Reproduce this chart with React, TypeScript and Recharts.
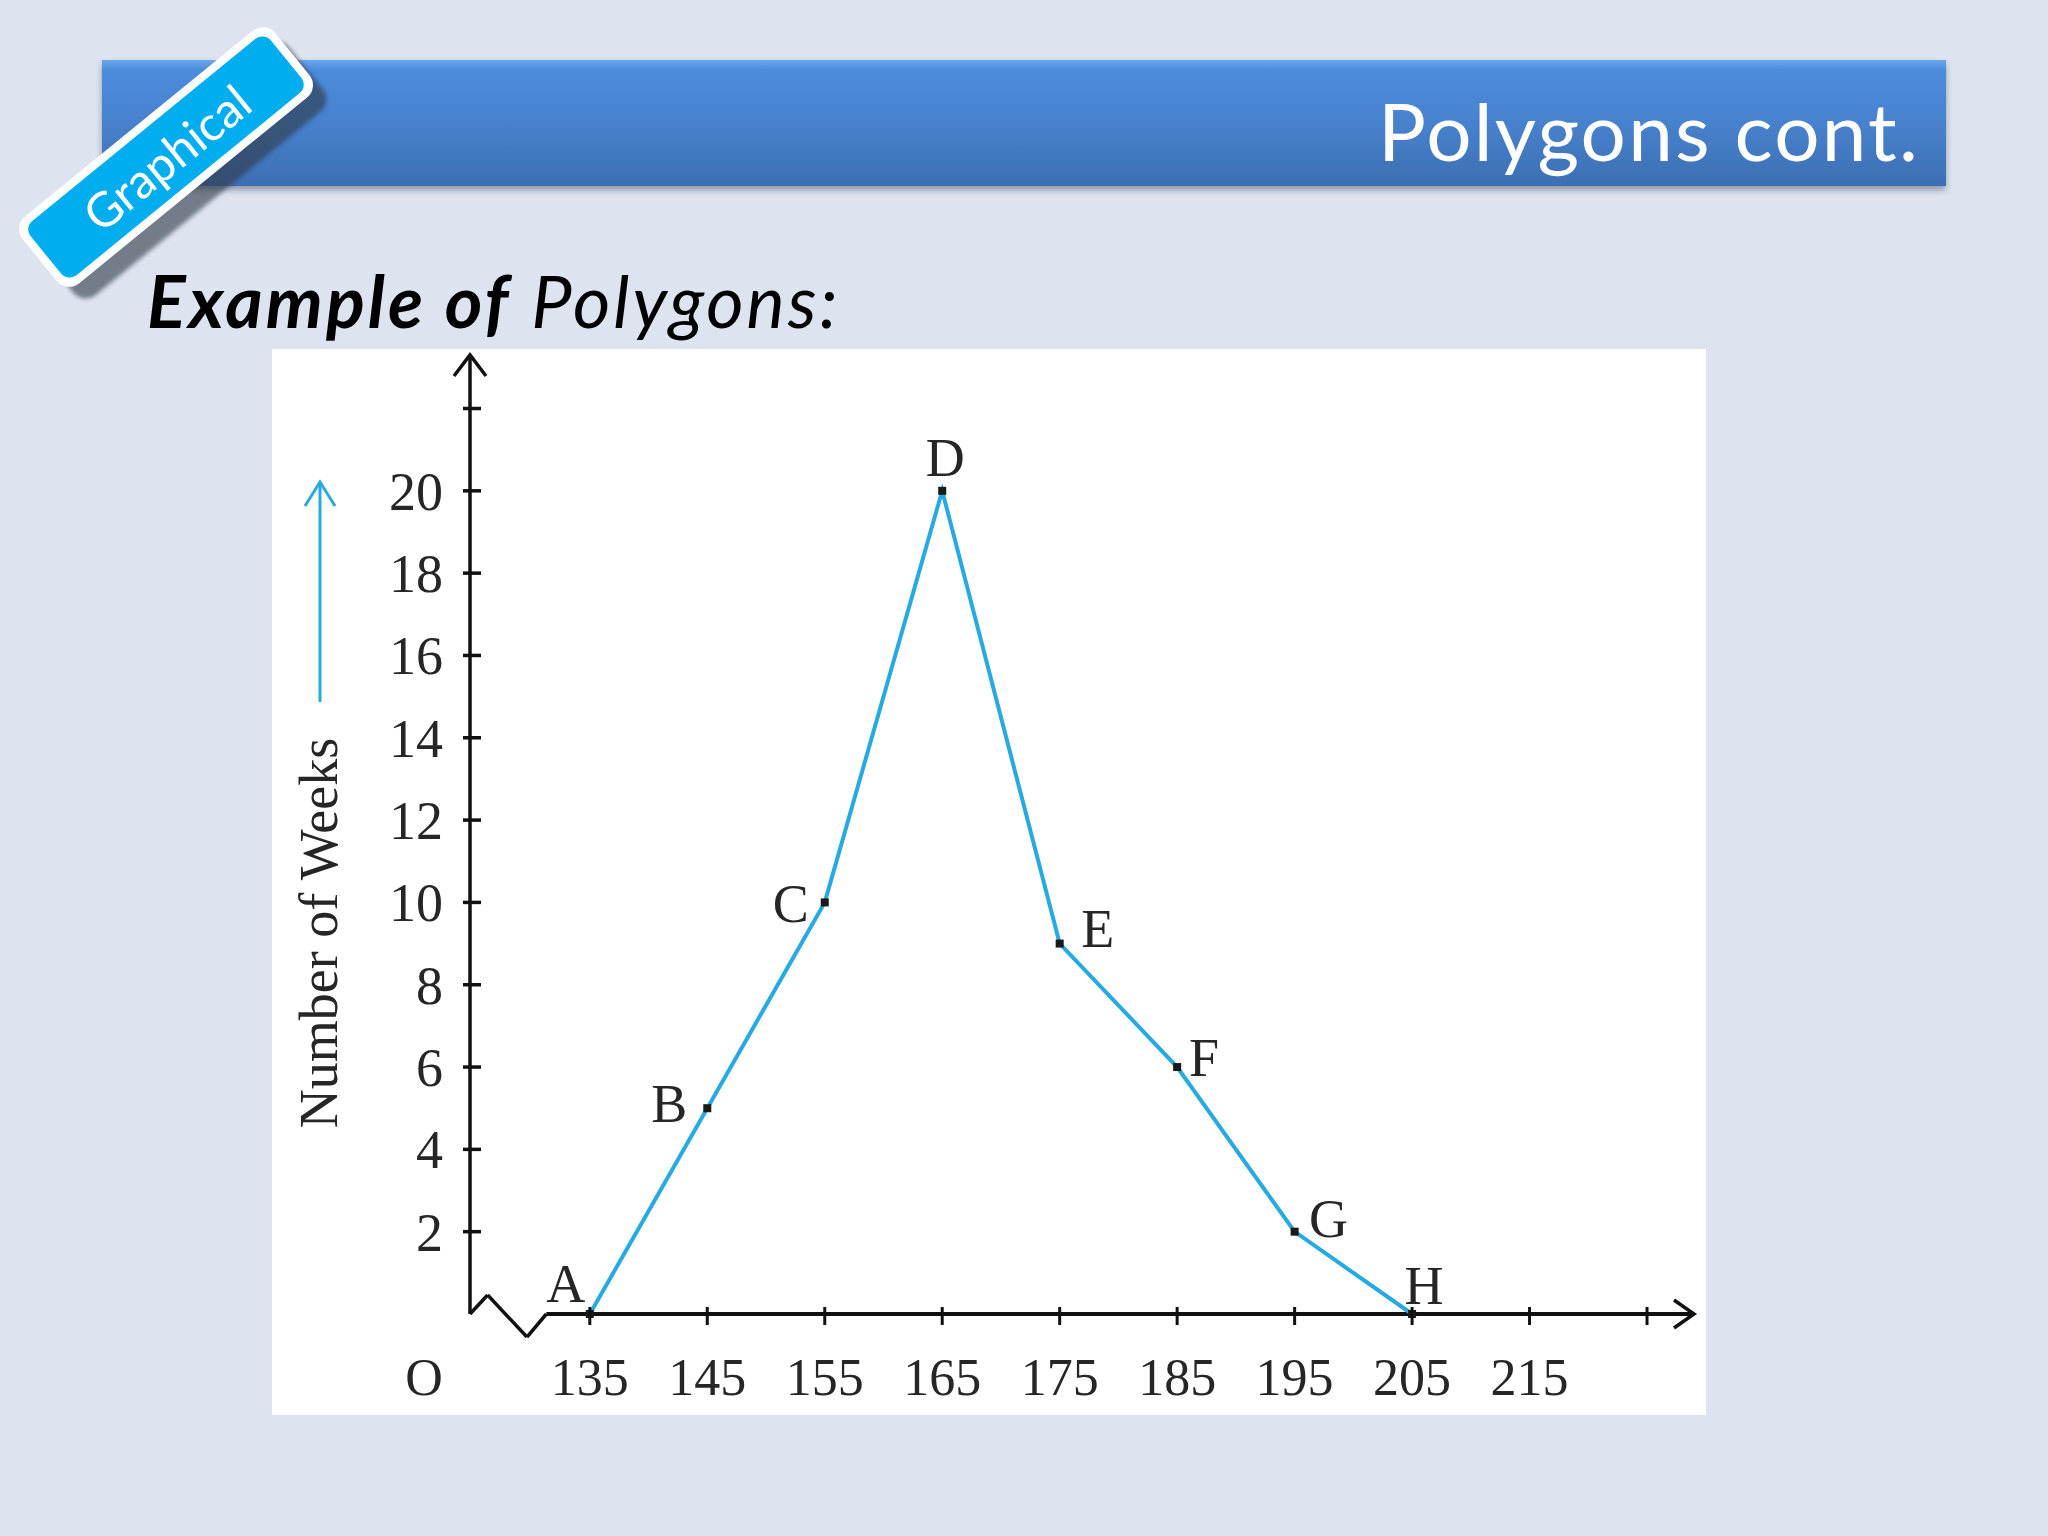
import React from "react";
import { LineChart, Line, XAxis, YAxis, ReferenceLine, ReferenceDot } from "recharts";

// class marks (kg) and number of weeks
const weights = [135, 145, 155, 165, 175, 185, 195, 205];
const weeks = [0, 5, 10, 20, 9, 6, 2, 0];
const pointNames = ["A", "B", "C", "D", "E", "F", "G", "H"];

const xTicks = [135, 145, 155, 165, 175, 185, 195, 205, 215, 225];
const xTickLabels = ["135", "145", "155", "165", "175", "185", "195", "205", "215", ""];
const yTicks = [2, 4, 6, 8, 10, 12, 14, 16, 18, 20, 22];
const yTickLabels = ["2", "4", "6", "8", "10", "12", "14", "16", "18", "20", ""];

const X_MIN = 124.8;
const X_MAX = 229;
const Y_MAX = 23.3;

// kink in the x axis between O and 135
const breakX = [X_MIN, 126.3, 129.65, 131.3];
const breakY = [0, 0.46, -0.56, 0];

const data = weights.map((w, i) => ({ weight: w, weeks: weeks[i] }));

// where each letter sits relative to its point, px
const labelOffsets: [number, number][] = [
  [-24, -12],
  [-38, 14],
  [-34, 20],
  [3, -15],
  [38, 3],
  [27, 9],
  [34, 5],
  [12, -10],
];

const SERIF = '"Liberation Serif", "Times New Roman", serif';
const SANS = 'Lato, "Open Sans", sans-serif';
const INK = "#262626";
const BLUE = "#27a9e1";

const XTick = (p: any) => {
  const { x, y, index } = p;
  return (
    <g>
      <line x1={x} x2={x} y1={y - 7} y2={y + 11} stroke="#111" strokeWidth={3} />
      <text x={x} y={y + 81} textAnchor="middle" fontFamily={SERIF} fontSize={52} fill={INK}>
        {xTickLabels[index]}
      </text>
    </g>
  );
};

const YTick = (p: any) => {
  const { x, y, index } = p;
  return (
    <g>
      <line x1={x - 7} x2={x + 11} y1={y} y2={y} stroke="#111" strokeWidth={3.5} />
      <text x={x - 27} y={y} dy="0.35em" textAnchor="end" fontFamily={SERIF} fontSize={54} fill={INK}>
        {yTickLabels[index]}
      </text>
    </g>
  );
};

const renderYLabel = (p: any) => {
  const vb = p.viewBox || { x: 0, y: 6, width: 198, height: 959 };
  const cx = vb.x + 48;
  const top = vb.y + 127;
  const bottom = vb.y + 347;
  return (
    <g>
      <line x1={cx} x2={cx} y1={top} y2={bottom} stroke={BLUE} strokeWidth={3} />
      <polyline
        points={`${cx - 15},${top + 24} ${cx},${top} ${cx + 15},${top + 24}`}
        fill="none"
        stroke={BLUE}
        strokeWidth={3}
      />
      <text
        x={cx}
        y={vb.y + 578}
        transform={`rotate(-90 ${cx} ${vb.y + 578})`}
        dy="0.32em"
        textAnchor="middle"
        fontFamily={SERIF}
        fontSize={54}
        fill={INK}
      >
        Number of Weeks
      </text>
      <text
        x={vb.x + 152}
        y={vb.y + vb.height + 81}
        textAnchor="middle"
        fontFamily={SERIF}
        fontSize={52}
        fill={INK}
      >
        O
      </text>
    </g>
  );
};

const renderPoint = (p: any) => {
  const { cx, cy, index } = p;
  const off = labelOffsets[index];
  return (
    <g key={`pt-${index}`}>
      <rect x={cx - 4} y={cy - 4} width={8} height={8} fill="#1a1a1a" />
      <text
        x={cx + off[0]}
        y={cy + off[1]}
        textAnchor="middle"
        fontFamily={SERIF}
        fontSize={54}
        fill={INK}
      >
        {pointNames[index]}
      </text>
    </g>
  );
};

const arrowUp = (p: any) => (
  <polyline
    points={`${p.cx - 16},${p.cy + 21} ${p.cx},${p.cy} ${p.cx + 16},${p.cy + 21}`}
    fill="none"
    stroke="#111"
    strokeWidth={3.5}
  />
);

const arrowRight = (p: any) => (
  <polyline
    points={`${p.cx - 20},${p.cy - 14} ${p.cx},${p.cy} ${p.cx - 20},${p.cy + 14}`}
    fill="none"
    stroke="#111"
    strokeWidth={3.5}
  />
);

function Slide() {
  return (
    <svg width={2048} height={1536} style={{ position: "absolute", left: 0, top: 0 }}>
      <defs>
        <linearGradient id="hdr" x1="0" y1="0" x2="0" y2="1">
          <stop offset="0%" stopColor="#6aa6ec" />
          <stop offset="8%" stopColor="#4c8cdb" />
          <stop offset="45%" stopColor="#4883d0" />
          <stop offset="100%" stopColor="#3d6fb2" />
        </linearGradient>
        <filter id="hdrShadow" x="-5%" y="-20%" width="110%" height="160%">
          <feDropShadow dx="0" dy="4" stdDeviation="3" floodColor="#2c3a52" floodOpacity="0.45" />
        </filter>
        <filter id="blur2">
          <feGaussianBlur stdDeviation="2" />
        </filter>
      </defs>
      <rect x={0} y={0} width={2048} height={1536} fill="#dde4f0" />
      <rect x={102} y={60} width={1844} height={126} fill="url(#hdr)" filter="url(#hdrShadow)" />
      <text
        x={1920}
        y={161}
        textAnchor="end"
        fontFamily={SANS}
        fontSize={80}
        letterSpacing={2.2}
        fill="#ffffff"
      >
        Polygons cont.
      </text>

      <g transform="translate(181,170) rotate(-39.2)" filter="url(#blur2)">
        <rect x={-161} y={-43} width={322} height={86} rx={16} fill="#2e3644" opacity={0.6} />
      </g>
      <g transform="translate(166,157) rotate(-39.2)">
        <rect x={-163} y={-43} width={326} height={86} rx={16} fill="#ffffff" />
        <rect x={-155} y={-35} width={310} height={70} rx={11} fill="#00aeef" />
        <text x={0} y={19} textAnchor="middle" fontFamily={SANS} fontSize={48} fill="#ffffff">
          Graphical
        </text>
      </g>

      <text
        x={147}
        y={328}
        fontFamily={SANS}
        fontSize={72}
        fontStyle="italic"
        letterSpacing={3}
        fill="#000"
      >
        <tspan fontWeight={700}>Example of</tspan> Polygons:
      </text>
    </svg>
  );
}

export default function App() {
  return (
    <div style={{ position: "absolute", left: 0, top: 0, width: 2048, height: 1536 }}>
      <Slide />
      <div
        style={{
          position: "absolute",
          left: 272,
          top: 349,
          width: 1434,
          height: 1066,
          background: "#ffffff",
        }}
      >
        <LineChart
          width={1434}
          height={1066}
          data={data}
          margin={{ top: 6, right: 12, bottom: 0, left: 0 }}
        >
          <XAxis
            dataKey="weight"
            type="number"
            domain={[X_MIN, X_MAX]}
            ticks={xTicks}
            interval={0}
            axisLine={false}
            tickLine={false}
            tickSize={0}
            tickMargin={0}
            height={101}
            tick={<XTick />}
          />
          <YAxis
            type="number"
            domain={[0, Y_MAX]}
            ticks={yTicks}
            interval={0}
            width={198}
            axisLine={{ stroke: "#111", strokeWidth: 3.5 }}
            tickLine={false}
            tickSize={0}
            tickMargin={0}
            tick={<YTick />}
            label={renderYLabel}
          />
          <ReferenceLine
            segment={[
              { x: breakX[3], y: 0 },
              { x: X_MAX, y: 0 },
            ]}
            stroke="#111"
            strokeWidth={4}
            ifOverflow="visible"
          />
          {breakX.slice(1).map((bx, i) => (
            <ReferenceLine
              key={`brk-${i}`}
              segment={[
                { x: breakX[i], y: breakY[i] },
                { x: bx, y: breakY[i + 1] },
              ]}
              stroke="#111"
              strokeWidth={3.5}
              ifOverflow="visible"
            />
          ))}
          <ReferenceDot x={X_MIN} y={Y_MAX} shape={arrowUp} ifOverflow="visible" />
          <ReferenceDot x={X_MAX} y={0} shape={arrowRight} ifOverflow="visible" />
          <Line
            dataKey="weeks"
            type="linear"
            stroke={BLUE}
            strokeWidth={4}
            dot={renderPoint}
            activeDot={false}
            isAnimationActive={false}
          />
        </LineChart>
      </div>
    </div>
  );
}
